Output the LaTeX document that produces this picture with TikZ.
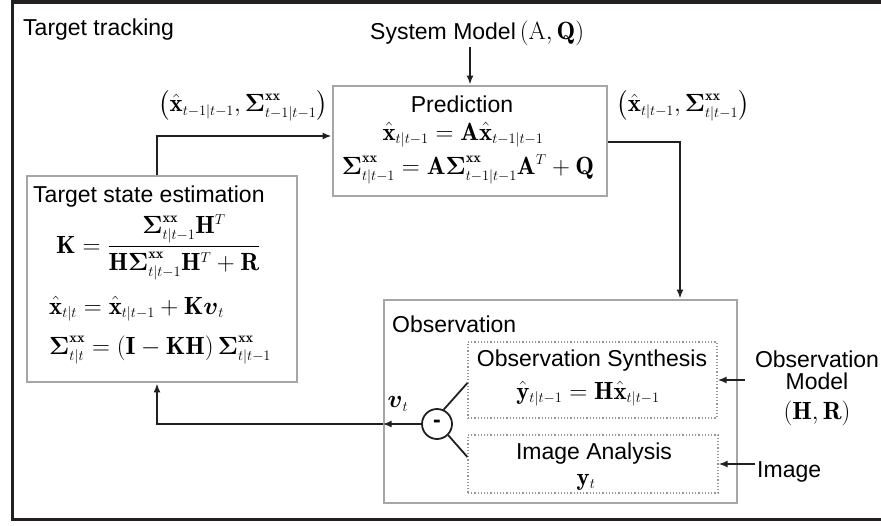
\documentclass[tikz,border=0pt]{standalone}
\usepackage{amsmath}
\usepackage{fontspec}
\setsansfont{Liberation Sans}
\usetikzlibrary{arrows.meta, positioning, calc}
\definecolor{framedark}{RGB}{35,31,32}
\definecolor{boxgray}{RGB}{166,166,166}
\definecolor{dotgray}{RGB}{150,150,150}
\DeclareMathSizes{24.88}{24.88}{14.4}{12}
\newcommand{\lblsize}{\fontsize{23}{26}\selectfont}
\newcommand{\eqsize}{\fontsize{24.88}{28}\selectfont}
\newcommand{\xhat}{\hat{\mathbf{x}}}
\newcommand{\Sxx}{\boldsymbol{\Sigma}^{\mathbf{xx}}}

\begin{document}
\begin{tikzpicture}[x=1pt, y=-1pt,
  lbl/.style={font=\sffamily\lblsize, inner sep=2pt},
  eq/.style={font=\eqsize, inner sep=0pt},
  block/.style={draw=boxgray, line width=2.8pt, fill=white},
  subblock/.style={draw=dotgray, dotted, line width=1.2pt},
  link/.style={draw=framedark, line width=1.8pt},
  arr/.style={link, -{Latex[length=9pt,width=7pt]}}]
  \useasboundingbox (0,0) rectangle (881,525);
  % Outer frame, open on the right
  \draw[framedark, line width=3.5pt] (881,1.75) -- (12.5,1.75) -- (12.5,519.5) -- (881,519.5);
  \node[lbl, anchor=base west] (title) at (21,35) {Target tracking};
  % System model and prediction
  \node[lbl, anchor=base west] (sysmodel) at (368,39)
    {System Model\,{\eqsize$\left(\mathrm{A},\mathbf{Q}\right)$}};
  \node[block, minimum width=274pt, minimum height=110pt] (pred) at (470,141) {};
  \node[lbl, anchor=base] (predtitle) at (462,112) {Prediction};
  \node[eq, anchor=base] (predx) at (463,140) {$\xhat_{t|t-1}=\mathbf{A}\xhat_{t-1|t-1}$};
  \node[eq, anchor=base] (predS) at (468,174)
    {$\Sxx_{t|t-1}=\mathbf{A}\Sxx_{t-1|t-1}\mathbf{A}^{T}+\mathbf{Q}$};
  \node[eq] (inlbl) at (243,106) {$\left(\xhat_{t-1|t-1},\Sxx_{t-1|t-1}\right)$};
  \node[eq] (outlbl) at (683,106) {$\left(\xhat_{t|t-1},\Sxx_{t|t-1}\right)$};
  % Target state estimation
  \node[block, minimum width=270pt, minimum height=206pt] (tse) at (162,279) {};
  \node[lbl, anchor=base west] (tsetitle) at (31,202) {Target state estimation};
  \node[eq, anchor=base west] (kgain) at (56,253)
    {$\mathbf{K}=\dfrac{\Sxx_{t|t-1}\mathbf{H}^{T}}{\mathbf{H}\Sxx_{t|t-1}\mathbf{H}^{T}+\mathbf{R}}$};
  \node[eq, anchor=base west] (tsex) at (49,314)
    {$\xhat_{t|t}=\xhat_{t|t-1}+\mathbf{K}\boldsymbol{v}_{t}$};
  \node[eq, anchor=base west] (tseS) at (49,354)
    {$\Sxx_{t|t}=\left(\mathbf{I}-\mathbf{KH}\right)\Sxx_{t|t-1}$};
  % Observation
  \node[block, minimum width=353pt, minimum height=203pt] (obs) at (560.5,401.5) {};
  \node[lbl, anchor=base west] (obstitle) at (390,332) {Observation};
  \node[subblock, minimum width=249pt, minimum height=76pt] (synth) at (592.5,380) {};
  \node[lbl, anchor=base] (synthtitle) at (592,366) {Observation Synthesis};
  \node[eq, anchor=base] (synthy) at (588,399) {$\hat{\mathbf{y}}_{t|t-1}=\mathbf{H}\xhat_{t|t-1}$};
  \node[subblock, minimum width=250pt, minimum height=58pt] (imganal) at (593,464) {};
  \node[lbl, anchor=base] (imgtitle) at (594,459) {Image Analysis};
  \node[eq, anchor=base] (imgy) at (586,485) {$\mathbf{y}_{t}$};
  \node[circle, draw=framedark, line width=1.8pt, minimum size=30pt, inner sep=0pt,
        font=\sffamily\bfseries\lblsize] (minus) at (437,424) {-};
  \node[eq] (vt) at (398,404) {$\boldsymbol{v}_{t}$};
  % Inputs from the right
  \node[lbl, anchor=north, align=center, font=\sffamily\fontsize{23}{22}\selectfont] (obsmodel) at (817,349)
    {Observation\\Model\\[8pt]{\eqsize$\left(\mathbf{H},\mathbf{R}\right)$}};
  \node[lbl, anchor=base west] (imgin) at (755,477) {Image};
  % Connectors
  \draw[arr] (sysmodel.south -| pred.north) -- (pred.north);
  \draw[arr] ([yshift=-1pt]pred.east) -| ([xshift=119.5pt]obs.north);
  \draw[arr] ([xshift=-5pt]tse.north) |- ([yshift=5pt]pred.west);
  \draw[link] (minus.65) -- ([yshift=-3pt]synth.west);
  \draw[link] (minus.-45) -- ([yshift=7pt]imganal.west);
  \draw[arr] (minus.west) -- (minus.west -| obs.west);
  \draw[arr] (minus.west -| obs.west) -| ([xshift=-5pt]tse.south);
  \draw[arr] ([xshift=-8pt]obsmodel.west |- synth.east) -- (synth.east);
  \draw[arr] (imgin.west |- imganal.east) -- (imganal.east);
\end{tikzpicture}
\end{document}
